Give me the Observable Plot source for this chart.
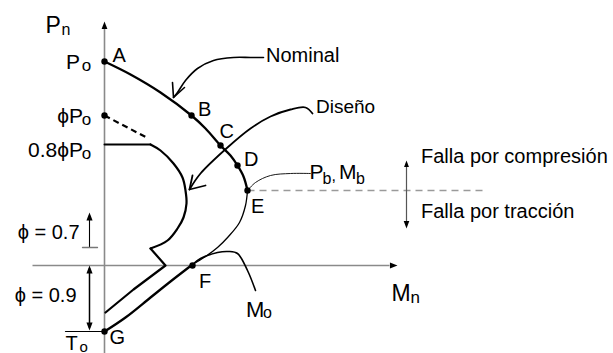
<!DOCTYPE html>
<html><head><meta charset="utf-8">
<script src="https://cdn.jsdelivr.net/npm/d3@7"></script>
<script src="https://cdn.jsdelivr.net/npm/@observablehq/plot@0.6"></script>
<style>html,body{margin:0;padding:0;background:#fff;} svg{display:block}</style>
</head><body><div id="chart"></div><script>
// Interaction diagram (units: Mn along x, Pn along y; origin at axis crossing)
const nominalUpper = [[0,204],[26,191],[56,173],[87,150],[101,137],[116,120],[126,110],[133,100],[139,89],[143,75]];
const nominalMid   = [[143,75],[141,60],[135,43],[124,29],[113,18],[101,9],[88,1]];
const nominalLower = [[88,1],[66,-16],[46,-32],[21,-52],[0,-66]];
const designCap    = [[0,121],[46,121]];
const designCurve  = [[46,121],[56,115],[69,102],[78,88],[81,75],[82,62],[79,48],[73,37],[63,25],[46,17]];
const designLower  = [[46,17],[61,0],[29,-24],[1,-47]];
const designDashed = [[0,150],[44,127]];
const keyPoints = [
  {name:"A", Mn:0, Pn:204}, {name:"phiPo", Mn:0, Pn:150}, {name:"B", Mn:87, Pn:150},
  {name:"C", Mn:116, Pn:120}, {name:"D", Mn:133, Pn:100}, {name:"E", Mn:143, Pn:75},
  {name:"F", Mn:88, Pn:0}, {name:"G", Mn:0, Pn:-66}
];
// leaders
const nominalLeader = [[159,208],[146,208],[129,208],[109,205],[93,197],[81,185],[73,173],[69,168]];
const nominalHead   = [[68,183],[69,168],[80,178]];
const designLeader  = [[208,152],[201,158],[186,156],[166,149],[146,137],[123,118],[96,92],[85,76]];
const designHead    = [[88,90],[85,76],[101,80]];
const moLeader      = [[88,1],[96,7],[113,13],[124,14],[133,12],[143,-5],[151,-25]];
const pbLeader      = [[143,75],[151,83],[166,90],[186,92],[206,92]];
const balanceLine   = [[143,75],[378,75]];
// axes and phi arrows
const pnAxis = [[0,-88],[0,240]];
const mnAxis = [[-72,0],[285,0]];
const phi07Line = [[-15,18],[-15,50]];
const phi07Tick = [[-22,18],[-7,18]];
const phi09Line = [[-15,-62],[-15,-3]];
const toLine    = [[-39,-66],[0,-66]];
const zoneLine  = [[302,40],[302,102]];
const heads = [
  {Mn:0, Pn:244, rot:0, r:4.2}, {Mn:293, Pn:0, rot:90, r:4.2},
  {Mn:-15, Pn:53, rot:0, r:4.8}, {Mn:-15, Pn:0, rot:0, r:4.8}, {Mn:-15, Pn:-65, rot:180, r:4.8},
  {Mn:302, Pn:105, rot:0, r:3}, {Mn:302, Pn:37, rot:180, r:4}
];
// labels
const labelsStart = [
  {t:"P", Mn:-59, Pn:233, s:23}, {t:"n", Mn:-43, Pn:231, s:16},
  {t:"P", Mn:-38.5, Pn:197, s:21}, {t:"o", Mn:-22.7, Pn:195, s:17},
  {t:"o", Mn:-22.7, Pn:141, s:17}, {t:"o", Mn:-22.7, Pn:107, s:17},
  {t:"A", Mn:8, Pn:204, s:20}, {t:"B", Mn:93.5, Pn:150, s:20}, {t:"C", Mn:115, Pn:128, s:20},
  {t:"D", Mn:139.5, Pn:100, s:20}, {t:"E", Mn:146.5, Pn:53, s:20}, {t:"F", Mn:94.5, Pn:-22, s:20},
  {t:"G", Mn:5, Pn:-78, s:20},
  {t:"M", Mn:141.5, Pn:-51, s:22}, {t:"o", Mn:158.4, Pn:-52, s:16},
  {t:"T", Mn:-39, Pn:-84, s:20}, {t:"o", Mn:-25, Pn:-86, s:15},
  {t:"Nominal", Mn:161.5, Pn:204, s:20}, {t:"Diseño", Mn:211.5, Pn:153, s:19},
  {t:"Falla por compresión", Mn:316.5, Pn:103, s:20}, {t:"Falla por tracción", Mn:316.5, Pn:48, s:20},
  {t:"M", Mn:287, Pn:-35, s:23}, {t:"n", Mn:306, Pn:-37, s:17},
  {t:"P", Mn:205, Pn:87, s:21}, {t:"b", Mn:218, Pn:82, s:16}, {t:",", Mn:227, Pn:85, s:16},
  {t:"M", Mn:234.5, Pn:87, s:21}, {t:"b", Mn:251.5, Pn:82, s:16}
];
const labelsEnd = [
  {t:"ϕP", Mn:-21.5, Pn:143, s:21}, {t:"0.8ϕP", Mn:-21.5, Pn:109, s:21},
  {t:"ϕ = 0.7", Mn:-25, Pn:27, s:20}, {t:"ϕ = 0.9", Mn:-28, Pn:-36, s:20}
];

const arrowSymbol = {draw(ctx, size) {
  const r = Math.sqrt(size / Math.PI);
  ctx.moveTo(0, 0); ctx.lineTo(-0.95 * r, 2.5 * r); ctx.lineTo(0.95 * r, 2.5 * r); ctx.closePath();
}};

const ln = (d, o) => Plot.line(d, {stroke: "black", strokeLinecap: "round", strokeLinejoin: "round", ...o});

const chart = Plot.plot({
  width: 613, height: 353, margin: 0,
  x: {domain: [-104, 509], axis: null},
  y: {domain: [-88, 265], axis: null},
  style: {fontFamily: "'Liberation Sans', Arial, sans-serif", background: "white", overflow: "visible"},
  marks: [
    ln(pnAxis, {stroke: "#8a8a8a", strokeWidth: 1.6, strokeLinecap: "butt"}),
    ln(mnAxis, {stroke: "#8a8a8a", strokeWidth: 1.6, strokeLinecap: "butt"}),
    ln(balanceLine, {stroke: "#9a9a9a", strokeWidth: 1.4, strokeDasharray: "7,5", strokeLinecap: "butt"}),
    ln(zoneLine, {stroke: "#555", strokeWidth: 1.2}),
    ln(phi07Line, {strokeWidth: 1.1}),
    ln(phi07Tick, {stroke: "#777", strokeWidth: 1.3}),
    ln(phi09Line, {strokeWidth: 1.5}),
    ln(toLine, {strokeWidth: 1.2}),
    ln(nominalUpper, {strokeWidth: 2.3, curve: "catmull-rom"}),
    ln(nominalMid, {strokeWidth: 1.3, curve: "catmull-rom"}),
    ln(nominalLower, {strokeWidth: 2.3, curve: "catmull-rom"}),
    ln(designCap, {strokeWidth: 2}),
    ln(designCurve, {strokeWidth: 2.2, curve: "catmull-rom"}),
    ln(designLower, {strokeWidth: 2.2}),
    ln(designDashed, {strokeWidth: 2.2, strokeDasharray: "6,4", strokeLinecap: "butt"}),
    ln(nominalLeader, {strokeWidth: 1.6, curve: "catmull-rom"}),
    ln(nominalHead, {strokeWidth: 1.6}),
    ln(designLeader, {strokeWidth: 1.8, curve: "catmull-rom"}),
    ln(designHead, {strokeWidth: 1.8}),
    ln(moLeader, {strokeWidth: 1.6, curve: "catmull-rom"}),
    ln(pbLeader, {strokeWidth: 0.9, curve: "catmull-rom"}),
    Plot.dot(heads, {x: "Mn", y: "Pn", r: "r", rotate: "rot", symbol: arrowSymbol, fill: "black", stroke: "none"}),
    Plot.dot(keyPoints, {x: "Mn", y: "Pn", r: 3.2, fill: "black"}),
    Plot.text(labelsStart, {x: "Mn", y: "Pn", text: "t", fontSize: d => d.s, textAnchor: "start", lineAnchor: "bottom", fill: "black"}),
    Plot.text(labelsEnd, {x: "Mn", y: "Pn", text: "t", fontSize: d => d.s, textAnchor: "end", lineAnchor: "bottom", fill: "black"})
  ]
});
document.getElementById("chart").append(chart);
</script></body></html>
